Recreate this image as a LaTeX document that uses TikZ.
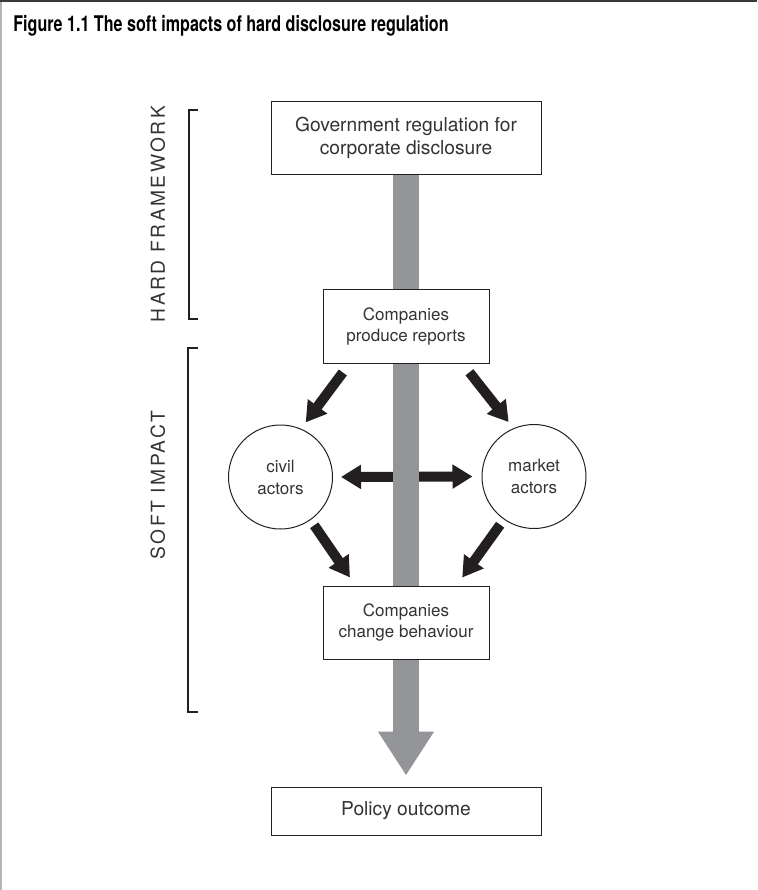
\documentclass[tikz,border=0pt]{standalone}
\usepackage{fontspec}
\setmainfont{TeX Gyre Heros}
\newfontfamily\titlefont[FakeStretch=0.745]{TeX Gyre Heros}
\newfontfamily\spacedfont[LetterSpace=13]{TeX Gyre Heros}
\usepackage{xcolor}
\definecolor{cInk}{HTML}{231F20}
\definecolor{cText}{HTML}{333333}
\definecolor{cShaft}{HTML}{939598}
\definecolor{cFrameTop}{HTML}{3A3A3A}
\definecolor{cFrameSide}{HTML}{B4B4B4}
\usepackage{tikz}
\usetikzlibrary{positioning,arrows.meta,backgrounds}
\tikzset{
  node-box/.style={draw=cInk,line width=0.5pt,fill=white,align=center,
    inner sep=0pt,text=cText,font=\fontsize{9.6}{11.5}\selectfont},
  node-box-small/.style={node-box,font=\fontsize{8.5}{10.5}\selectfont},
  node-actor/.style={draw=cInk,line width=0.5pt,circle,minimum size=52pt,
    inner sep=0pt,align=center,text=cText,font=\fontsize{8.5}{11}\selectfont},
  node-side/.style={rotate=90,text=cText,font=\spacedfont\fontsize{9.6}{11.5}\selectfont},
  arrow-fat/.style={-{Triangle[width=11.5pt,length=10pt]},line width=5pt,draw=cInk},
  arrow-flow/.style={-{Triangle[width=26.5pt,length=22pt]},line width=13pt,draw=cShaft},
  bracket/.style={draw=cInk,line width=1.2pt},
}
\begin{document}
\begin{tikzpicture}[x=0.5pt,y=-0.5pt]
  \useasboundingbox (0,0) rectangle (757,890);
  % frame and title
  \draw[cFrameSide,line width=1pt] (1,0) -- (1,890);
  \draw[cFrameTop,line width=1pt] (0,1) -- (757,1);
  \node[anchor=base west,inner sep=0pt,font=\titlefont\bfseries\fontsize{10.8}{12}\selectfont]
    (title) at (13,31) {Figure 1.1 The soft impacts of hard disclosure regulation};

  % boxes
  \node[node-box,minimum width=135pt,minimum height=36.5pt] (gov) at (406,137.5)
    {Government regulation for\\corporate disclosure};
  \node[node-box-small,minimum width=83pt,minimum height=37pt] (prod) at (406,326)
    {Companies\\produce reports};
  \node[node-actor] (civil) at (280.5,477) {civil\\actors};
  \node[node-actor] (market) at (534,476.5) {market\\actors};
  \node[node-box-small,minimum width=83pt,minimum height=36.5pt] (change) at (406,622.5)
    {Companies\\change behaviour};
  \node[node-box,minimum width=135pt,minimum height=24pt] (outcome) at (406,811)
    {Policy outcome};

  % side labels
  \node[node-side] (hard) at (158,214) {HARD FRAMEWORK};
  \node[node-side] (soft) at (158,485) {SOFT IMPACT};
  \draw[bracket] (198,110) -| (189,319) -- (198,319);
  \draw[bracket] (198,348) -| (188,712) -- (198,712);

  % arrows
  \draw[arrow-fat,shorten <=5.6pt,shorten >=3.9pt]
    ([xshift=13.5pt]prod.south west) -- (civil.67);
  \draw[arrow-fat,shorten <=5.6pt,shorten >=3.9pt]
    ([xshift=-13.5pt]prod.south east) -- (market.113);
  \draw[arrow-fat,shorten <=3.2pt,shorten >=4.9pt]
    (civil.-55) -- ([xshift=16.5pt]change.north west);
  \draw[arrow-fat,shorten <=3.2pt,shorten >=4.9pt]
    (market.-125) -- ([xshift=-16.5pt]change.north east);
  \begin{scope}[on background layer]
    \draw[arrow-fat,{Triangle[width=11.5pt,length=10pt]}-{Triangle[width=11.5pt,length=10pt]},
      shorten <=4pt,shorten >=4.5pt] (civil.east) -- (market.west);
    \draw[arrow-flow,shorten >=5.5pt] (gov.south) -- (outcome.north);
  \end{scope}
\end{tikzpicture}
\end{document}
